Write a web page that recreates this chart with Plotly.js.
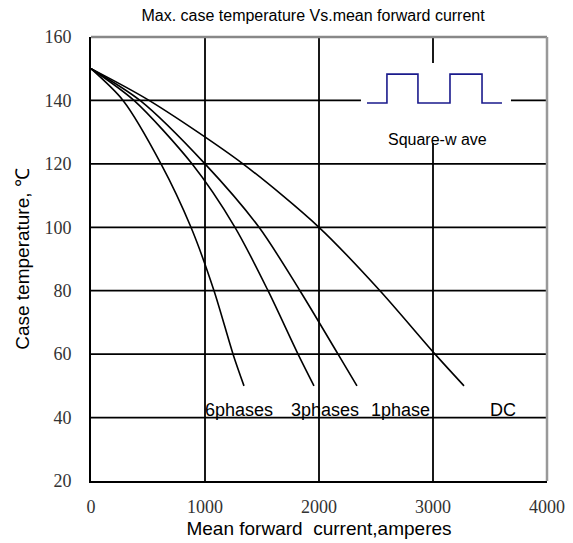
<!DOCTYPE html>
<html>
<head>
<meta charset="utf-8">
<script src="https://cdn.plot.ly/plotly-3.0.1.min.js"></script>
<style>html,body{margin:0;padding:0;background:#fff;}#chart{width:573px;height:543px;}</style>
</head>
<body>
<div id="chart"></div>
<script>
// ---- data ----
const tempLevels = [150, 140, 120, 100, 80, 60, 50];
const x6phases = [0, 281, 614, 877, 1079, 1246, 1342];
const x3phases = [0, 377, 886, 1263, 1553, 1816, 1956];
const x1phase  = [0, 430, 1000, 1474, 1833, 2167, 2333];
const xDC      = [0, 509, 1333, 2000, 2535, 3018, 3272];

const curveLabels = ["6phases", "3phases", "1phase", "DC"];
const labelX = [1300, 2053, 2719, 3614];
const labelY = 42.4;

// square-wave pictogram
const sqX = [2421, 2596, 2596, 2868, 2868, 3149, 3149, 3430, 3430, 3605];
const sqY = [139.2, 139.2, 148.3, 148.3, 139.2, 139.2, 148.3, 148.3, 139.2, 139.2];
const sqLabel = "Square-w ave";
const sqLabelX = 3039, sqLabelY = 127.8;

const xTicks = [0, 1000, 2000, 3000, 4000];
const yTicks = [20, 40, 60, 80, 100, 120, 140, 160];
const xGrid = [1000, 2000, 3000];
const yGrid = [40, 60, 80, 100, 120, 140];
// gaps in the grid around the pictogram
const gap140 = [2368, 3684];
const gap3000 = [126.6, 151.8];

const curveLine = {color: '#000', width: 1.6, shape: 'spline', smoothing: 0.8};
const traces = [
  {x: x6phases, y: tempLevels, mode: 'lines', line: curveLine, hoverinfo: 'skip'},
  {x: x3phases, y: tempLevels, mode: 'lines', line: curveLine, hoverinfo: 'skip'},
  {x: x1phase,  y: tempLevels, mode: 'lines', line: curveLine, hoverinfo: 'skip'},
  {x: xDC,      y: tempLevels, mode: 'lines', line: curveLine, hoverinfo: 'skip'},
  {x: sqX, y: sqY, mode: 'lines', line: {color: '#1a1a8c', width: 1.6}, hoverinfo: 'skip'}
];

const gridStyle = {color: '#000', width: 1.8};
const shapes = [];
xGrid.forEach(v => {
  if (v === 3000) {
    shapes.push({type: 'line', layer: 'below', xref: 'x', yref: 'y', x0: v, x1: v, y0: 20, y1: gap3000[0], line: gridStyle});
    shapes.push({type: 'line', layer: 'below', xref: 'x', yref: 'y', x0: v, x1: v, y0: gap3000[1], y1: 160, line: gridStyle});
  } else {
    shapes.push({type: 'line', layer: 'below', xref: 'x', yref: 'y', x0: v, x1: v, y0: 20, y1: 160, line: gridStyle});
  }
});
yGrid.forEach(v => {
  if (v === 140) {
    shapes.push({type: 'line', layer: 'below', xref: 'x', yref: 'y', x0: 0, x1: gap140[0], y0: v, y1: v, line: gridStyle});
    shapes.push({type: 'line', layer: 'below', xref: 'x', yref: 'y', x0: gap140[1], x1: 4000, y0: v, y1: v, line: gridStyle});
  } else {
    shapes.push({type: 'line', layer: 'below', xref: 'x', yref: 'y', x0: 0, x1: 4000, y0: v, y1: v, line: gridStyle});
  }
});
// top and right frame (gray)
shapes.push({type: 'line', xref: 'paper', yref: 'paper', x0: 0, x1: 1, y0: 1, y1: 1, line: {color: '#888', width: 2.5}});
shapes.push({type: 'line', xref: 'paper', yref: 'paper', x0: 1, x1: 1, y0: 0, y1: 1, line: {color: '#999', width: 2.5}});

const sansFont = 'Liberation Sans, Arial, sans-serif';
const annotations = curveLabels.map((t, i) => ({
  x: labelX[i], y: labelY, xref: 'x', yref: 'y', text: t, showarrow: false,
  font: {family: sansFont, size: 18, color: '#000'}, xanchor: 'center', yanchor: 'middle'
}));
annotations.push({x: sqLabelX, y: sqLabelY, xref: 'x', yref: 'y', text: sqLabel, showarrow: false,
  font: {family: sansFont, size: 16, color: '#000'}, xanchor: 'center', yanchor: 'middle'});

const tickFont = {family: 'Liberation Serif, Times New Roman, serif', size: 18, color: '#333'};
const layout = {
  width: 573, height: 543,
  margin: {l: 91, r: 26, t: 37, b: 62, pad: 0},
  paper_bgcolor: '#fff', plot_bgcolor: '#fff',
  showlegend: false,
  title: {text: 'Max. case temperature Vs.mean forward current', font: {family: sansFont, size: 16, color: '#000'},
          x: 0.487, xref: 'paper', xanchor: 'center', y: 0.972, yref: 'container', yanchor: 'middle'},
  xaxis: {range: [0, 4000], tickvals: xTicks, ticktext: xTicks.map(String), showgrid: false, zeroline: false,
          showline: true, linecolor: '#000', linewidth: 2, ticks: '', tickfont: tickFont, ticklabelstandoff: 8,
          title: {text: 'Mean forward\u00a0\u00a0current,amperes', font: {family: sansFont, size: 19, color: '#000'}, standoff: 6}},
  yaxis: {range: [20, 160], tickvals: yTicks, ticktext: yTicks.map(String), showgrid: false, zeroline: false,
          showline: true, linecolor: '#000', linewidth: 2, ticks: '', tickfont: tickFont, ticklabelstandoff: 14,
          title: {text: 'Case temperature,\u00a0℃', font: {family: sansFont, size: 19, color: '#000'}, standoff: 10}},
  shapes: shapes,
  annotations: annotations
};

Plotly.newPlot('chart', traces, layout, {displayModeBar: false, staticPlot: true});
</script>
</body>
</html>
